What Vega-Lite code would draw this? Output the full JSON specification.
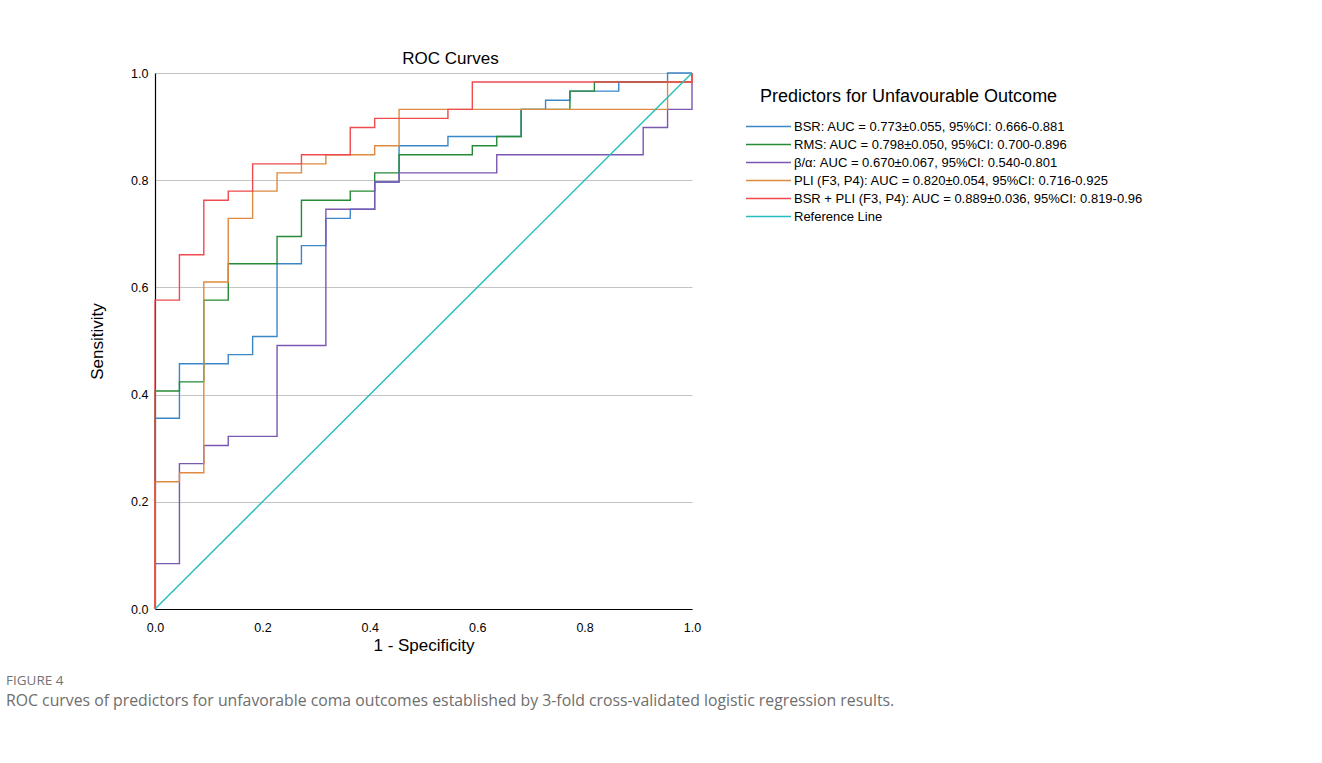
{
  "$schema": "https://vega.github.io/schema/vega-lite/v6.json",
  "width": 537,
  "height": 536,
  "autosize": {"type": "none"},
  "padding": {"left": 155, "top": 73, "right": 630, "bottom": 154},
  "background": "white",
  "config": {"font": "Liberation Sans", "view": {"stroke": null}},
  "title": {
    "text": "FIGURE 4",
    "subtitle": "ROC curves of predictors for unfavorable coma outcomes established by 3-fold cross-validated logistic regression results.",
    "orient": "bottom",
    "anchor": "start",
    "frame": "group",
    "dx": -149,
    "offset": 20,
    "font": "Open Sans",
    "fontSize": 13.5,
    "fontWeight": "normal",
    "color": "#737373",
    "subtitleFont": "Open Sans",
    "subtitleFontSize": 15.8,
    "subtitleColor": "#6e6e6e",
    "subtitlePadding": 7
  },
  "data": {"values": [
    {"s": "BSR", "i": 0, "x": 0, "y": 0},
    {"s": "BSR", "i": 1, "x": 0, "y": 0.3559},
    {"s": "BSR", "i": 2, "x": 0.0455, "y": 0.4576},
    {"s": "BSR", "i": 3, "x": 0.1364, "y": 0.4746},
    {"s": "BSR", "i": 4, "x": 0.1818, "y": 0.5085},
    {"s": "BSR", "i": 5, "x": 0.2273, "y": 0.6441},
    {"s": "BSR", "i": 6, "x": 0.2727, "y": 0.678},
    {"s": "BSR", "i": 7, "x": 0.3182, "y": 0.7288},
    {"s": "BSR", "i": 8, "x": 0.3636, "y": 0.7458},
    {"s": "BSR", "i": 9, "x": 0.4091, "y": 0.7966},
    {"s": "BSR", "i": 10, "x": 0.4545, "y": 0.8644},
    {"s": "BSR", "i": 11, "x": 0.5455, "y": 0.8814},
    {"s": "BSR", "i": 12, "x": 0.6818, "y": 0.9322},
    {"s": "BSR", "i": 13, "x": 0.7273, "y": 0.9492},
    {"s": "BSR", "i": 14, "x": 0.7727, "y": 0.9661},
    {"s": "BSR", "i": 15, "x": 0.8636, "y": 0.9831},
    {"s": "BSR", "i": 16, "x": 0.9545, "y": 1},
    {"s": "BSR", "i": 17, "x": 1, "y": 1},
    {"s": "RMS", "i": 0, "x": 0, "y": 0},
    {"s": "RMS", "i": 1, "x": 0, "y": 0.4068},
    {"s": "RMS", "i": 2, "x": 0.0455, "y": 0.4237},
    {"s": "RMS", "i": 3, "x": 0.0909, "y": 0.5763},
    {"s": "RMS", "i": 4, "x": 0.1364, "y": 0.6441},
    {"s": "RMS", "i": 5, "x": 0.2273, "y": 0.6949},
    {"s": "RMS", "i": 6, "x": 0.2727, "y": 0.7627},
    {"s": "RMS", "i": 7, "x": 0.3636, "y": 0.7797},
    {"s": "RMS", "i": 8, "x": 0.4091, "y": 0.8136},
    {"s": "RMS", "i": 9, "x": 0.4545, "y": 0.8475},
    {"s": "RMS", "i": 10, "x": 0.5909, "y": 0.8644},
    {"s": "RMS", "i": 11, "x": 0.6364, "y": 0.8814},
    {"s": "RMS", "i": 12, "x": 0.6818, "y": 0.9322},
    {"s": "RMS", "i": 13, "x": 0.7727, "y": 0.9661},
    {"s": "RMS", "i": 14, "x": 0.8182, "y": 0.9831},
    {"s": "RMS", "i": 15, "x": 1, "y": 1},
    {"s": "BA", "i": 0, "x": 0, "y": 0},
    {"s": "BA", "i": 1, "x": 0, "y": 0.0847},
    {"s": "BA", "i": 2, "x": 0.0455, "y": 0.2712},
    {"s": "BA", "i": 3, "x": 0.0909, "y": 0.3051},
    {"s": "BA", "i": 4, "x": 0.1364, "y": 0.322},
    {"s": "BA", "i": 5, "x": 0.2273, "y": 0.4915},
    {"s": "BA", "i": 6, "x": 0.3182, "y": 0.7458},
    {"s": "BA", "i": 7, "x": 0.4091, "y": 0.7966},
    {"s": "BA", "i": 8, "x": 0.4545, "y": 0.8136},
    {"s": "BA", "i": 9, "x": 0.6364, "y": 0.8475},
    {"s": "BA", "i": 10, "x": 0.9091, "y": 0.8983},
    {"s": "BA", "i": 11, "x": 0.9545, "y": 0.9322},
    {"s": "BA", "i": 12, "x": 1, "y": 1},
    {"s": "PLI", "i": 0, "x": 0, "y": 0},
    {"s": "PLI", "i": 1, "x": 0, "y": 0.2373},
    {"s": "PLI", "i": 2, "x": 0.0455, "y": 0.2542},
    {"s": "PLI", "i": 3, "x": 0.0909, "y": 0.6102},
    {"s": "PLI", "i": 4, "x": 0.1364, "y": 0.7288},
    {"s": "PLI", "i": 5, "x": 0.1818, "y": 0.7797},
    {"s": "PLI", "i": 6, "x": 0.2273, "y": 0.8136},
    {"s": "PLI", "i": 7, "x": 0.2727, "y": 0.8305},
    {"s": "PLI", "i": 8, "x": 0.3182, "y": 0.8475},
    {"s": "PLI", "i": 9, "x": 0.4091, "y": 0.8644},
    {"s": "PLI", "i": 10, "x": 0.4545, "y": 0.9322},
    {"s": "PLI", "i": 11, "x": 0.9545, "y": 0.9831},
    {"s": "PLI", "i": 12, "x": 1, "y": 1},
    {"s": "BSRPLI", "i": 0, "x": 0, "y": 0},
    {"s": "BSRPLI", "i": 1, "x": 0, "y": 0.5763},
    {"s": "BSRPLI", "i": 2, "x": 0.0455, "y": 0.661},
    {"s": "BSRPLI", "i": 3, "x": 0.0909, "y": 0.7627},
    {"s": "BSRPLI", "i": 4, "x": 0.1364, "y": 0.7797},
    {"s": "BSRPLI", "i": 5, "x": 0.1818, "y": 0.8305},
    {"s": "BSRPLI", "i": 6, "x": 0.2727, "y": 0.8475},
    {"s": "BSRPLI", "i": 7, "x": 0.3636, "y": 0.8983},
    {"s": "BSRPLI", "i": 8, "x": 0.4091, "y": 0.9153},
    {"s": "BSRPLI", "i": 9, "x": 0.5455, "y": 0.9322},
    {"s": "BSRPLI", "i": 10, "x": 0.5909, "y": 0.9831},
    {"s": "BSRPLI", "i": 11, "x": 1, "y": 1},
    {"s": "REF", "i": 0, "x": 0, "y": 0},
    {"s": "REF", "i": 1, "x": 1, "y": 1}
  ]},
  "encoding": {
    "x": {"field": "x", "type": "quantitative"},
    "y": {
      "field": "y",
      "type": "quantitative",
      "scale": {"domain": [0, 1], "nice": false, "zero": false},
      "axis": {
        "title": "Sensitivity",
        "values": [0, 0.2, 0.4, 0.6, 0.8, 1],
        "format": ".1f",
        "grid": true,
        "gridColor": "#c4c4c4",
        "gridWidth": 1.2,
        "ticks": false,
        "domain": true,
        "domainColor": "#000000",
        "domainWidth": 1.2,
        "labelFlush": false,
        "labelFont": "Liberation Sans",
        "labelFontSize": 12.5,
        "labelColor": "#000000",
        "labelPadding": 7,
        "titleFont": "Liberation Sans",
        "titleFontSize": 17,
        "titleFontWeight": "normal",
        "titleColor": "#000000",
        "titlePadding": 24
      }
    },
    "color": {
      "field": "s",
      "type": "nominal",
      "scale": {
        "domain": ["BSR", "RMS", "BA", "PLI", "BSRPLI", "REF"],
        "range": ["#3a87c8", "#258a35", "#7a57b0", "#de8a40", "#ee4a4f", "#24bdbd"]
      },
      "legend": {
        "orient": "none",
        "legendX": 605,
        "legendY": 15,
        "title": "Predictors for Unfavourable Outcome",
        "titleFont": "Liberation Sans",
        "titleFontSize": 18,
        "titleFontWeight": "normal",
        "titleColor": "#000000",
        "titleAnchor": "start",
        "titleLimit": 800,
        "titlePadding": 12,
        "labelFont": "Liberation Sans",
        "labelFontSize": 13,
        "labelColor": "#000000",
        "labelLimit": 600,
        "labelOffset": 17,
        "symbolType": "M-3,0H3",
        "symbolSize": 225,
        "symbolStrokeWidth": 1.3,
        "rowPadding": 2,
        "labelExpr": "datum.label == 'BSR' ? 'BSR: AUC = 0.773±0.055, 95%CI: 0.666-0.881' : datum.label == 'RMS' ? 'RMS: AUC = 0.798±0.050, 95%CI: 0.700-0.896' : datum.label == 'BA' ? 'β/α: AUC = 0.670±0.067, 95%CI: 0.540-0.801' : datum.label == 'PLI' ? 'PLI (F3, P4): AUC = 0.820±0.054, 95%CI: 0.716-0.925' : datum.label == 'BSRPLI' ? 'BSR + PLI (F3, P4): AUC = 0.889±0.036, 95%CI: 0.819-0.96' : 'Reference Line'"
      }
    }
  },
  "layer": [
    {
      "transform": [{"filter": "datum.s !== 'REF'"}],
      "mark": {"type": "line", "interpolate": "step-after", "strokeWidth": 1.4},
      "encoding": {
        "x": {
          "field": "x",
          "type": "quantitative",
          "scale": {"domain": [0, 1], "nice": false, "zero": false},
          "axis": {
            "orient": "bottom",
            "title": "1 - Specificity",
            "values": [0, 0.2, 0.4, 0.6, 0.8, 1],
            "format": ".1f",
            "grid": false,
            "ticks": false,
            "domain": true,
            "domainColor": "#000000",
            "domainWidth": 1.2,
            "labelFlush": false,
            "labelFont": "Liberation Sans",
            "labelFontSize": 12.5,
            "labelColor": "#000000",
            "labelPadding": 12,
            "titleFont": "Liberation Sans",
            "titleFontSize": 17,
            "titleFontWeight": "normal",
            "titleColor": "#000000",
            "titlePadding": 4
          }
        },
        "order": {"field": "i", "type": "quantitative"}
      }
    },
    {
      "transform": [{"filter": "datum.s === 'REF'"}],
      "mark": {"type": "line", "strokeWidth": 1.4},
      "encoding": {
        "x": {
          "field": "x",
          "type": "quantitative",
          "axis": {
            "orient": "top",
            "title": "ROC Curves",
            "labels": false,
            "ticks": false,
            "domain": false,
            "grid": false,
            "titleX": 295,
            "titleFont": "Liberation Sans",
            "titleFontSize": 17,
            "titleFontWeight": "normal",
            "titleColor": "#000000",
            "titlePadding": 6
          }
        },
        "order": {"field": "i", "type": "quantitative"}
      }
    }
  ],
  "resolve": {"axis": {"x": "independent"}}
}
